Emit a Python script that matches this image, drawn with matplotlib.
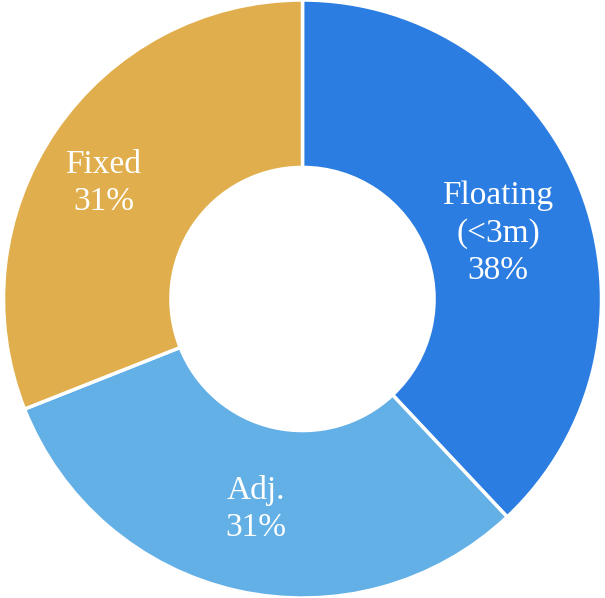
import numpy as np
import matplotlib.pyplot as plt

# Share of segments
labels = ["Floating\n(<3m)", "Adj.", "Fixed"]
shares = [38, 31, 31]
colors = ["#2B7DE1", "#63B0E6", "#E0AE4C"]

fig = plt.figure(figsize=(6.05, 5.98), dpi=100)
ax = fig.add_axes([0, 0, 1, 1])

wedges, _ = ax.pie(
    shares,
    colors=colors,
    startangle=90,
    counterclock=False,
    radius=1.0,
    wedgeprops=dict(width=0.56, edgecolor="white", linewidth=2.5),
)

# label placement inside each ring segment (radius, angle nudge in degrees)
label_r = [0.69, 0.72, 0.77]
label_nudge = [-3, 0, 4]

total = sum(shares)
start = 90.0
for lab, val, r, dn in zip(labels, shares, label_r, label_nudge):
    mid = start - val / total * 360 / 2 + dn
    start -= val / total * 360
    x, y = r * np.cos(np.radians(mid)), r * np.sin(np.radians(mid))
    ax.text(x, y, f"{lab}\n{val}%", ha="center", va="center", color="white",
            fontsize=24, family="Liberation Serif", linespacing=1.28)

ax.set_xlim(-1.01, 1.01)
ax.set_ylim(-1.0, 1.0)
ax.set_aspect("equal")
ax.axis("off")

fig.savefig("out.png", dpi=100)
